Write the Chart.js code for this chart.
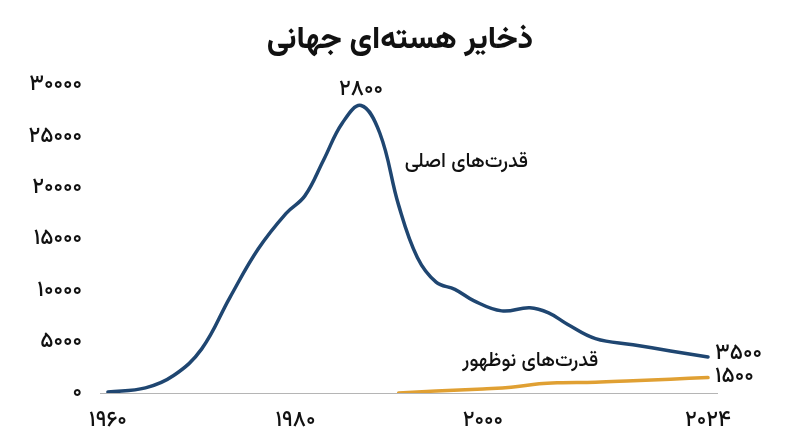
<!DOCTYPE html>
<html><head><meta charset="utf-8">
<script src="https://cdn.jsdelivr.net/npm/chart.js@4/dist/chart.umd.min.js"></script>
<style>html,body{margin:0;padding:0;background:#fff}#wrap{width:800px;height:447px}</style>
</head><body><div id="wrap"><canvas id="c" width="800" height="447"></canvas></div>
<script>
const title = 'ذخایر هسته‌ای جهانی';
const majorLabel = 'قدرت‌های اصلی';
const emergingLabel = 'قدرت‌های نوظهور';
const xTickValues = [1960, 1980, 2000, 2024];
const xTickLabels = ['۱۹۶۰', '۱۹۸۰', '۲۰۰۰', '۲۰۲۴'];
const yTickValues = [0, 5000, 10000, 15000, 20000, 25000, 30000];
const yTickLabels = ['۰', '۵۰۰۰', '۱۰۰۰۰', '۱۵۰۰۰', '۲۰۰۰۰', '۲۵۰۰۰', '۳۰۰۰۰'];
const majorYears = [1960, 1964, 1967, 1970, 1973, 1976, 1979, 1981, 1983, 1985, 1987, 1989, 1991, 1993, 1995, 1997, 1999, 2002, 2005, 2007, 2009, 2012, 2016, 2020, 2024];
const majorValues = [100, 500, 1700, 4300, 9300, 14000, 17500, 19200, 22700, 26300, 28000, 25300, 18300, 13200, 10800, 10100, 9000, 8000, 8300, 7800, 6700, 5300, 4700, 4100, 3500];
const emergingYears = [1991, 1995, 2000, 2003, 2006, 2008, 2012, 2016, 2020, 2024];
const emergingValues = [0, 200, 400, 550, 900, 1000, 1050, 1200, 1350, 1500];
const peakText = '۲۸۰۰';
const majorEndText = '۳۵۰۰';
const emergingEndText = '۱۵۰۰';

const FONT = "Vazirmatn, 'DejaVu Sans', sans-serif";
const BLUE = '#1f4671';
const ORANGE = '#e0a033';

const textPlugin = {
  id: 'texts',
  afterDraw(chart) {
    const ctx = chart.ctx, x = chart.scales.x, y = chart.scales.y;
    ctx.save();
    ctx.fillStyle = '#111';
    ctx.textBaseline = 'middle';
    ctx.textAlign = 'center';
    ctx.font = '800 31px ' + FONT;
    ctx.fillText(title, 400, 43);
    ctx.font = '500 22px ' + FONT;
    const pi = majorValues.indexOf(Math.max(...majorValues));
    ctx.fillText(peakText, x.getPixelForValue(majorYears[pi]), y.getPixelForValue(majorValues[pi]) - 14);
    ctx.textAlign = 'right';
    ctx.font = '500 20px ' + FONT;
    ctx.fillText(majorLabel, x.getPixelForValue(2004.8), y.getPixelForValue(22300));
    ctx.fillText(emergingLabel, x.getPixelForValue(2012.3), y.getPixelForValue(2900));
    ctx.textAlign = 'left';
    ctx.font = '500 22px ' + FONT;
    const lm = majorValues.length - 1, le = emergingValues.length - 1;
    ctx.fillText(majorEndText, x.getPixelForValue(majorYears[lm]) + 7, y.getPixelForValue(majorValues[lm]) - 2);
    ctx.fillText(emergingEndText, x.getPixelForValue(emergingYears[le]) + 7, y.getPixelForValue(emergingValues[le]) + 1);
    ctx.restore();
  }
};

new Chart(document.getElementById('c'), {
  type: 'line',
  data: {
    datasets: [
      { data: majorYears.map((v, i) => ({x: v, y: majorValues[i]})), borderColor: BLUE, borderWidth: 3.5, pointRadius: 0, tension: 0.4, fill: false, borderCapStyle: 'round' },
      { data: emergingYears.map((v, i) => ({x: v, y: emergingValues[i]})), borderColor: ORANGE, borderWidth: 3.5, pointRadius: 0, tension: 0.4, fill: false, borderCapStyle: 'round' }
    ]
  },
  options: {
    responsive: false,
    animation: false,
    layout: { padding: { top: 85, right: 83, bottom: 0, left: 0 } },
    plugins: { legend: { display: false }, tooltip: { enabled: false }, title: { display: false } },
    scales: {
      x: {
        type: 'linear', min: 1959.15, max: 2024.96,
        afterBuildTicks: s => { s.ticks = xTickValues.map(v => ({value: v})); },
        afterFit: s => { s.height = 54; },
        ticks: { callback: v => xTickLabels[xTickValues.indexOf(v)], color: '#111', font: { family: FONT, size: 22, weight: '500' }, padding: 16, maxRotation: 0, autoSkip: false },
        grid: { display: false, drawTicks: false },
        border: { display: true, color: '#b5b5b5', width: 1 }
      },
      y: {
        min: 0, max: 30000,
        afterBuildTicks: s => { s.ticks = yTickValues.map(v => ({value: v})); },
        afterFit: s => { s.width = 100; },
        ticks: { callback: v => yTickLabels[yTickValues.indexOf(v)], color: '#111', font: { family: FONT, size: 22, weight: '500' }, padding: 18, labelOffset: 2 },
        grid: { display: false, drawTicks: false },
        border: { display: false }
      }
    }
  },
  plugins: [textPlugin]
});
</script></body></html>
